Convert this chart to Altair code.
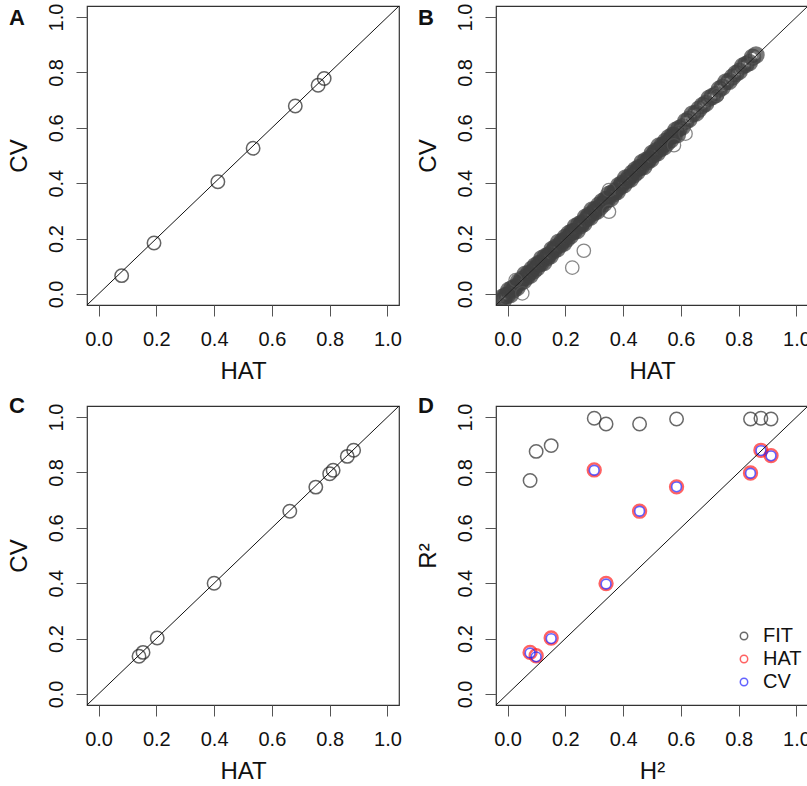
import altair as alt
import pandas as pd

FONT = "Liberation Sans"
TICKS = [0.0, 0.2, 0.4, 0.6, 0.8, 1.0]
DOM = [-0.04, 1.04]

# ---------------- Panel A ----------------
A_HAT = [0.080, 0.192, 0.413, 0.535, 0.681, 0.760, 0.781]
A_CV = [0.066, 0.184, 0.405, 0.526, 0.679, 0.754, 0.778]

# ---------------- Panel B (dense band along the diagonal + outliers) ----------------
B_HAT_1 = [-0.020, -0.008, 0.004, 0.015, 0.027, 0.038, 0.050, 0.061, 0.073, 0.085,
           0.096, 0.108, 0.119, 0.131, 0.142, 0.154, 0.166, 0.177, 0.189, 0.200,
           0.212, 0.223, 0.235, 0.247, 0.258, 0.270, 0.281, 0.293, 0.304, 0.316,
           0.328, 0.339, 0.351, 0.362, 0.374, 0.385, 0.397, 0.409, 0.420, 0.432,
           0.443, 0.455, 0.466, 0.478, 0.490, 0.501, 0.513, 0.524, 0.536, 0.547,
           0.559, 0.571, 0.582, 0.594, 0.605, 0.617, 0.628, 0.640, 0.652, 0.663,
           0.675, 0.686, 0.698, 0.709, 0.721, 0.733, 0.744, 0.756, 0.767, 0.779,
           0.790, 0.802, 0.814, 0.825, 0.837, 0.848, 0.860]
B_CV_1 = [-0.014, -0.006, 0.013, 0.019, 0.026, 0.045, 0.053, 0.071, 0.074, 0.090,
          0.102, 0.110, 0.128, 0.135, 0.141, 0.161, 0.169, 0.187, 0.190, 0.205,
          0.218, 0.225, 0.244, 0.251, 0.257, 0.277, 0.284, 0.303, 0.305, 0.321,
          0.334, 0.341, 0.360, 0.366, 0.373, 0.392, 0.400, 0.419, 0.421, 0.437,
          0.449, 0.457, 0.475, 0.482, 0.489, 0.508, 0.516, 0.534, 0.537, 0.552,
          0.565, 0.573, 0.591, 0.598, 0.604, 0.624, 0.631, 0.650, 0.653, 0.668,
          0.681, 0.688, 0.707, 0.713, 0.720, 0.740, 0.747, 0.766, 0.768, 0.784,
          0.796, 0.804, 0.823, 0.829, 0.836, 0.855, 0.863]
B_HAT_2 = [-0.014, -0.002, 0.010, 0.021, 0.033, 0.044, 0.056, 0.067, 0.079, 0.091,
           0.102, 0.114, 0.125, 0.137, 0.148, 0.160, 0.172, 0.183, 0.195, 0.206,
           0.218, 0.229, 0.241, 0.253, 0.264, 0.276, 0.287, 0.299, 0.310, 0.322,
           0.334, 0.345, 0.357, 0.368, 0.380, 0.391, 0.403, 0.415, 0.426, 0.438,
           0.449, 0.461, 0.472, 0.484, 0.496, 0.507, 0.519, 0.530, 0.542, 0.553,
           0.565, 0.577, 0.588]
B_CV_2 = [-0.022, -0.006, -0.002, 0.015, 0.023, 0.041, 0.047, 0.062, 0.068, 0.084,
          0.094, 0.110, 0.113, 0.131, 0.138, 0.157, 0.163, 0.178, 0.184, 0.199,
          0.210, 0.225, 0.229, 0.247, 0.254, 0.273, 0.278, 0.294, 0.299, 0.315,
          0.326, 0.341, 0.345, 0.362, 0.370, 0.388, 0.394, 0.410, 0.415, 0.431,
          0.441, 0.457, 0.460, 0.478, 0.486, 0.504, 0.510, 0.525, 0.531, 0.546,
          0.557, 0.573, 0.576]
B_HAT_OUT = [0.224, 0.264, 0.351, 0.616, 0.576, 0.028, 0.051, 0.351, 0.852, 0.725]
B_CV_OUT = [0.095, 0.156, 0.297, 0.579, 0.537, 0.050, 0.002, 0.375, 0.856, 0.718]

# ---------------- Panel C ----------------
C_HAT = [0.140, 0.154, 0.203, 0.400, 0.662, 0.752, 0.800, 0.812, 0.861, 0.883]
C_CV = [0.136, 0.150, 0.202, 0.400, 0.660, 0.747, 0.795, 0.808, 0.858, 0.880]

# ---------------- Panel D ----------------
D_H2 = [0.078, 0.099, 0.151, 0.300, 0.341, 0.457, 0.585, 0.841, 0.877, 0.912]
D_FIT = [0.771, 0.876, 0.897, 0.996, 0.975, 0.975, 0.993, 0.993, 0.996, 0.993]
D_HAT = [0.150, 0.138, 0.202, 0.809, 0.399, 0.660, 0.748, 0.798, 0.880, 0.861]
D_CV = [0.148, 0.134, 0.200, 0.808, 0.397, 0.660, 0.748, 0.797, 0.879, 0.860]

SERIES = ["FIT", "HAT", "CV"]
SERIES_COLORS = ["#2a2a2a", "#ff2020", "#2020ff"]
SERIES_SIZE = [180, 170, 95]
SERIES_SW = [1.5, 2.3, 1.6]

LINE_X = [-0.04, 1.04]
LINE_Y = [-0.04, 1.04]

W, H = 312, 299
LAB_FS = 20
TIT_FS = 24


def xenc(title):
    return alt.X("x:Q", scale=alt.Scale(domain=DOM, nice=False, zero=False),
                 axis=alt.Axis(values=TICKS, format=".1f", title=title, grid=False, domain=False,
                               tickSize=11, tickColor="#555", tickWidth=1,
                               labelFontSize=LAB_FS, labelPadding=13, labelFont=FONT,
                               labelColor="#111", labelFlush=False, labelOverlap=False,
                               titleFontSize=TIT_FS, titlePadding=10, titleFont=FONT,
                               titleColor="#111", titleFontWeight="normal"))


def yenc(title):
    return alt.Y("y:Q", scale=alt.Scale(domain=DOM, nice=False, zero=False),
                 axis=alt.Axis(values=TICKS, format=".1f", title=title, grid=False, domain=False,
                               tickSize=11, tickColor="#555", tickWidth=1,
                               labelFontSize=LAB_FS, labelPadding=10, labelFont=FONT,
                               labelColor="#111",
                               labelAngle=270, labelAlign="center", labelBaseline="bottom",
                               labelFlush=False, labelOverlap=False,
                               titleFontSize=TIT_FS, titlePadding=15, titleFont=FONT,
                               titleColor="#111", titleFontWeight="normal"))


line_df = pd.DataFrame({"x": LINE_X, "y": LINE_Y})


def diag(xt, yt, color="#111"):
    return alt.Chart(line_df).mark_line(color=color, strokeWidth=1, clip=True).encode(
        x=xenc(xt), y=yenc(yt))


def letter(t, dy):
    return alt.Chart(pd.DataFrame({"t": [t]})).mark_text(
        font=FONT, fontSize=22, fontWeight="bold", align="center", baseline="middle",
        color="#111").encode(text="t:N", x=alt.value(-70), y=alt.value(dy))


def pts(xs, ys, xt, yt, color="#222", sw=1.5, size=180):
    df = pd.DataFrame({"x": xs, "y": ys})
    return alt.Chart(df).mark_point(shape="circle", filled=False, size=size, strokeWidth=sw,
                                    color=color, clip=True).encode(x=xenc(xt), y=yenc(yt))


pa = alt.layer(pts(A_HAT, A_CV, "HAT", "CV"), diag("HAT", "CV"), letter("A", 12)).properties(
    width=W, height=H)
pb = alt.layer(
    pts(B_HAT_1 + B_HAT_2, B_CV_1 + B_CV_2, "HAT", "CV", color="#404040", sw=4.6, size=165),
    pts(B_HAT_OUT, B_CV_OUT, "HAT", "CV", color="#555", sw=1.3, size=180),
    diag("HAT", "CV", color="#222"),
    letter("B", 12)).properties(width=W, height=H)
pc = alt.layer(pts(C_HAT, C_CV, "HAT", "CV"), diag("HAT", "CV"), letter("C", 0)).properties(
    width=W, height=H)

d_rows = []
for i, (s, vals) in enumerate(zip(SERIES, [D_FIT, D_HAT, D_CV])):
    for h, v in zip(D_H2, vals):
        d_rows.append({"x": h, "y": v, "series": s, "order": i,
                       "sz": SERIES_SIZE[i], "sw": SERIES_SW[i]})
d_df = pd.DataFrame(d_rows)

d_pts = alt.Chart(d_df).mark_point(shape="circle", filled=False, clip=True).encode(
    x=xenc("H²"), y=yenc("R²"),
    color=alt.Color("series:N", sort=SERIES,
                    scale=alt.Scale(domain=SERIES, range=SERIES_COLORS),
                    legend=alt.Legend(orient="none", legendX=647, legendY=620, title=None,
                                      symbolType="circle", symbolSize=55, symbolStrokeWidth=1.5,
                                      labelFontSize=LAB_FS, labelFont=FONT, labelColor="#111",
                                      labelOffset=9, rowPadding=3, padding=0)),
    size=alt.Size("sz:Q", scale=None, legend=None),
    strokeWidth=alt.StrokeWidth("sw:Q", scale=None, legend=None),
    order=alt.Order("order:Q"))
pd_ = alt.layer(d_pts, diag("H²", "R²"), letter("D", 0)).properties(width=W, height=H)

top = alt.hconcat(pa, pb, spacing=13)
bottom = alt.hconcat(pc, pd_, spacing=13)
chart = alt.vconcat(top, bottom, spacing=10).properties(
    padding={"left": 6, "top": 2, "right": -4, "bottom": 0},
    background="white",
).configure_view(stroke="#333", strokeWidth=1.2)

chart.save("out.html", embed_options={"renderer": "svg", "actions": False})
